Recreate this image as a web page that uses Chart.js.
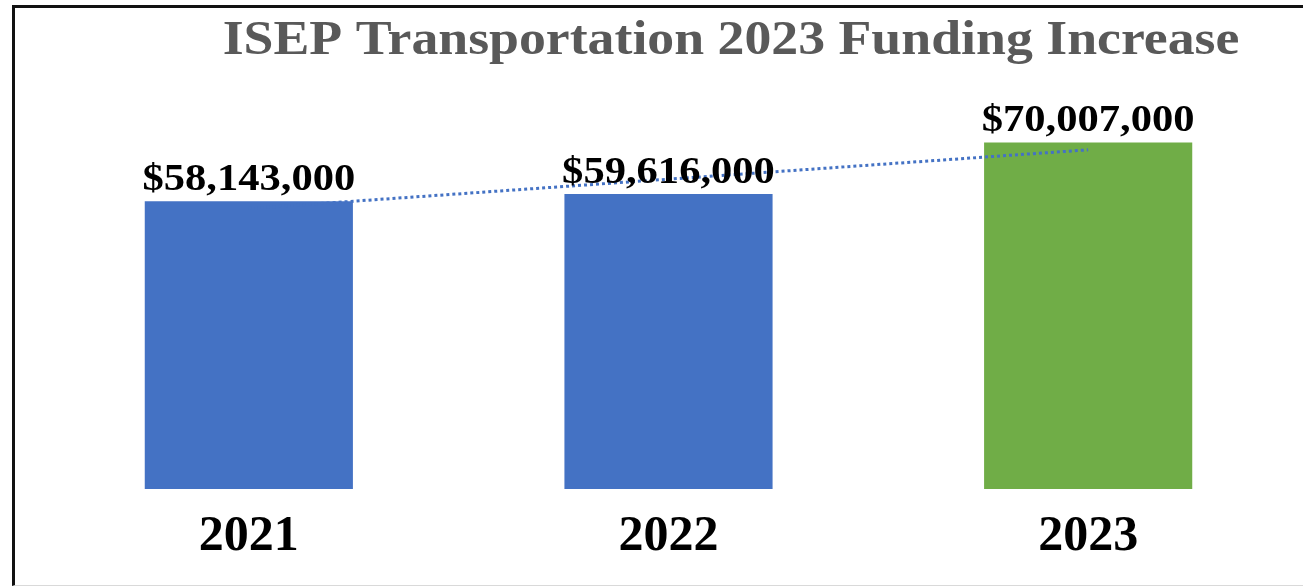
<!DOCTYPE html>
<html>
<head>
<meta charset="utf-8">
<script src="https://cdn.jsdelivr.net/npm/chart.js@4.4.0/dist/chart.umd.min.js"></script>
<style>
  html, body { margin: 0; padding: 0; background: #fff; }
  #wrap { position: relative; width: 1303px; height: 586px; overflow: hidden; }
  #frame { position: absolute; left: 12px; top: 5px; width: 1300px; height: 577px;
           border-left: 3px solid #111; border-top: 3px solid #111; border-bottom: 1px solid #d9d9d9; }
  #c { position: absolute; left: 0; top: 0; }
</style>
</head>
<body>
<div id="wrap">
  <div id="frame"></div>
  <canvas id="c" width="1303" height="586"></canvas>
</div>
<script>
const $ = id => document.getElementById(id);

// ---------------- DATA ----------------
const years = ["2021", "2022", "2023"];
const funding = [58143000, 59616000, 70007000];
const trend = [56660000, 62590000, 68520000]; // dotted trendline
const barColors = ["#4472C4", "#4472C4", "#70AD47"];
const titleText = "ISEP Transportation 2023 Funding Increase";

const serif = '"Liberation Serif", "Times New Roman", serif';
const stretch = 1.12; // text in the picture is a bit wider than the font

// ---------------- PLUGINS ----------------
function wideText(ctx, txt, x, y){
  ctx.save();
  ctx.translate(x, y);
  ctx.scale(stretch, 1);
  ctx.fillText(txt, 0, 0);
  ctx.restore();
}

const titlePlugin = {
  id: "titlePlugin",
  afterDraw(chart){
    const ctx = chart.ctx;
    ctx.save();
    ctx.font = "bold 48px " + serif;
    ctx.fillStyle = "#595959";
    ctx.textAlign = "center";
    ctx.textBaseline = "alphabetic";
    wideText(ctx, titleText, 731, 54);
    ctx.restore();
  }
};

const valueLabels = {
  id: "valueLabels",
  afterDatasetsDraw(chart){
    const ctx = chart.ctx;
    const meta = chart.getDatasetMeta(1);
    ctx.save();
    ctx.font = "bold 38px " + serif;
    ctx.fillStyle = "#000";
    ctx.textAlign = "center";
    ctx.textBaseline = "alphabetic";
    meta.data.forEach((bar, i) => {
      const txt = "$" + funding[i].toLocaleString("en-US");
      wideText(ctx, txt, bar.x, bar.y - 11);
    });
    ctx.restore();
  }
};

// ---------------- CHART ----------------
new Chart($("c").getContext("2d"), {
  data: {
    labels: years,
    datasets: [
      {
        type: "line",
        data: trend,
        borderColor: "#4472C4",
        borderWidth: 3,
        borderDash: [3, 3],
        pointRadius: 0,
        fill: false,
        order: 0
      },
      {
        type: "bar",
        data: funding,
        backgroundColor: barColors,
        categoryPercentage: 1,
        barPercentage: 0.496,
        order: 1
      }
    ]
  },
  options: {
    responsive: false,
    animation: false,
    layout: { padding: { left: 39, right: 5, top: 93, bottom: 9 } },
    plugins: {
      legend: { display: false },
      tooltip: { enabled: false },
      title: { display: false }
    },
    scales: {
      x: {
        grid: { display: false },
        border: { display: false },
        ticks: {
          color: "#000",
          font: { family: serif, size: 50, weight: "bold", lineHeight: 1.16 },
          padding: 11
        }
      },
      y: {
        display: false,
        min: 0,
        max: 80000000
      }
    }
  },
  plugins: [titlePlugin, valueLabels]
});
</script>
</body>
</html>
